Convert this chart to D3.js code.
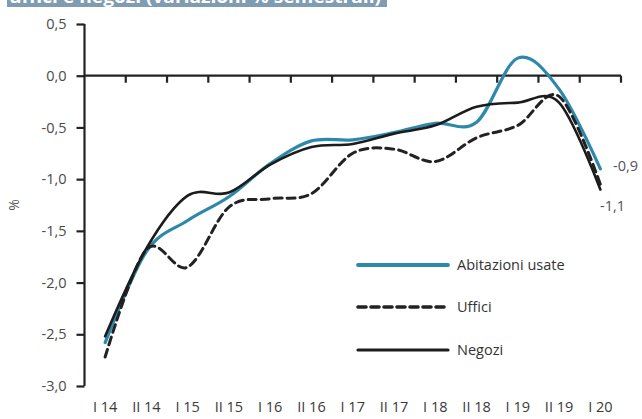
<!DOCTYPE html>
<html>
<head>
<meta charset="utf-8">
<script src="https://cdn.jsdelivr.net/npm/d3@7"></script>
<style>
  html, body { margin: 0; padding: 0; background: #fff; }
  svg { display: block; font-family: "Open Sans", "DejaVu Sans", sans-serif; }
</style>
</head>
<body>
<svg id="chart" width="642" height="419"></svg>
<script>
// Semesters (I = first half, II = second half of the year)
const periods = ["I 14", "II 14", "I 15", "II 15", "I 16", "II 16", "I 17",
                 "II 17", "I 18", "II 18", "I 19", "II 19", "I 20"];

// Half-yearly price changes, %
const abitazioniUsate = [-2.58, -1.70, -1.40, -1.17, -0.85, -0.63, -0.62,
                         -0.55, -0.46, -0.45, 0.17, -0.13, -0.9];
const uffici = [-2.72, -1.68, -1.85, -1.27, -1.19, -1.14, -0.75,
                -0.71, -0.83, -0.60, -0.48, -0.20, -1.05];
const negozi = [-2.52, -1.67, -1.16, -1.13, -0.86, -0.69, -0.66,
                -0.56, -0.48, -0.30, -0.26, -0.26, -1.1];

const yTicks = [0.5, 0, -0.5, -1, -1.5, -2, -2.5, -3];
const seriesNames = ["Abitazioni usate", "Uffici", "Negozi"];
const endLabels = ["-0,9", "-1,1"];

const svg = d3.select("#chart");
// Italian style: comma decimals, plain hyphen for negatives
const fmt = v => d3.format(".1f")(v).replace("\u2212", "-").replace(".", ",");

// Title strip across the top edge
svg.append("rect").attr("x", 7).attr("y", 0).attr("width", 380).attr("height", 7)
  .attr("fill", "#7f9cb3");
svg.append("text").attr("x", 9).attr("y", 2.5)
  .attr("font-size", 18).attr("font-weight", "bold").attr("fill", "#fff")
  .attr("textLength", 372).attr("lengthAdjust", "spacingAndGlyphs")
  .text("uffici e negozi (variazioni % semestrali)");

const x = d3.scaleBand().domain(periods).range([84.5, 621]).padding(0);
const y = d3.scaleLinear().domain([-3, 0.5]).range([386, 24]);
const cx = p => x(p) + x.bandwidth() / 2;

// Y axis
const yAxis = svg.append("g").attr("transform", "translate(84.5,0)")
  .call(d3.axisLeft(y).tickValues(yTicks).tickSize(8).tickPadding(10).tickFormat(fmt));
yAxis.select(".domain").attr("stroke", "#222").attr("stroke-width", 2.2)
  .attr("d", `M0,${y(0.5)}V${y(-3)}`);
yAxis.selectAll(".tick line").attr("stroke", "#222").attr("stroke-width", 2.2);
yAxis.selectAll(".tick text").attr("fill", "#4a4a4a").attr("font-size", 14.5)
  .attr("font-family", "'Open Sans', sans-serif");

// Zero line with semester separators
const zAxis = svg.append("g").attr("transform", `translate(0,${y(0)})`)
  .call(d3.axisBottom(x).tickSize(0).tickFormat(""));
zAxis.select(".domain").attr("stroke", "#222").attr("stroke-width", 2.2)
  .attr("d", `M84.5,0H621`);
zAxis.selectAll(".tick").remove();
const bounds = periods.map(p => x(p) + x.bandwidth());
zAxis.selectAll("line.sep").data(bounds).join("line").attr("class", "sep")
  .attr("x1", d => d).attr("x2", d => d).attr("y1", 0).attr("y2", 7)
  .attr("stroke", "#222").attr("stroke-width", 2.2);

// Period labels along the bottom
svg.append("g").selectAll("text").data(periods).join("text")
  .attr("x", p => cx(p)).attr("y", 412).attr("text-anchor", "middle")
  .attr("font-size", 14.5).attr("fill", "#3a3a3a").text(p => p);

// Y title
svg.append("text").attr("transform", "translate(19,205) rotate(-90)")
  .attr("text-anchor", "middle").attr("font-size", 14).attr("fill", "#555").text("%");

const line = d3.line().x((d, i) => cx(periods[i])).y(d => y(d))
  .curve(d3.curveCardinal.tension(0));

const styles = [
  { data: abitazioniUsate, color: "#2d89aa", width: 3.2, dash: null },
  { data: uffici, color: "#222", width: 3, dash: "8,5" },
  { data: negozi, color: "#1c1c1c", width: 2.6, dash: null }
];

svg.append("g").selectAll("path").data(styles).join("path")
  .attr("d", s => line(s.data)).attr("fill", "none")
  .attr("stroke", s => s.color).attr("stroke-width", s => s.width)
  .attr("stroke-dasharray", s => s.dash).attr("stroke-linecap", "round");

// Value labels at the last period
svg.append("text").attr("x", 613).attr("y", y(abitazioniUsate[12]) + 2)
  .attr("font-size", 14.5).attr("fill", "#555").text(endLabels[0]);
svg.append("text").attr("x", 600).attr("y", y(negozi[12]) + 22)
  .attr("font-size", 14.5).attr("fill", "#555").text(endLabels[1]);

// Legend
const legendY = [265, 307, 350];
const lg = svg.append("g");
styles.forEach((s, i) => {
  lg.append("line").attr("x1", 358).attr("x2", 448)
    .attr("y1", legendY[i]).attr("y2", legendY[i])
    .attr("stroke", s.color).attr("stroke-width", s.width + 0.6)
    .attr("stroke-dasharray", s.dash).attr("stroke-linecap", "round");
  lg.append("text").attr("x", 457).attr("y", legendY[i] + 5)
    .attr("font-size", 14.5).attr("fill", "#333").text(seriesNames[i]);
});
</script>
</body>
</html>
